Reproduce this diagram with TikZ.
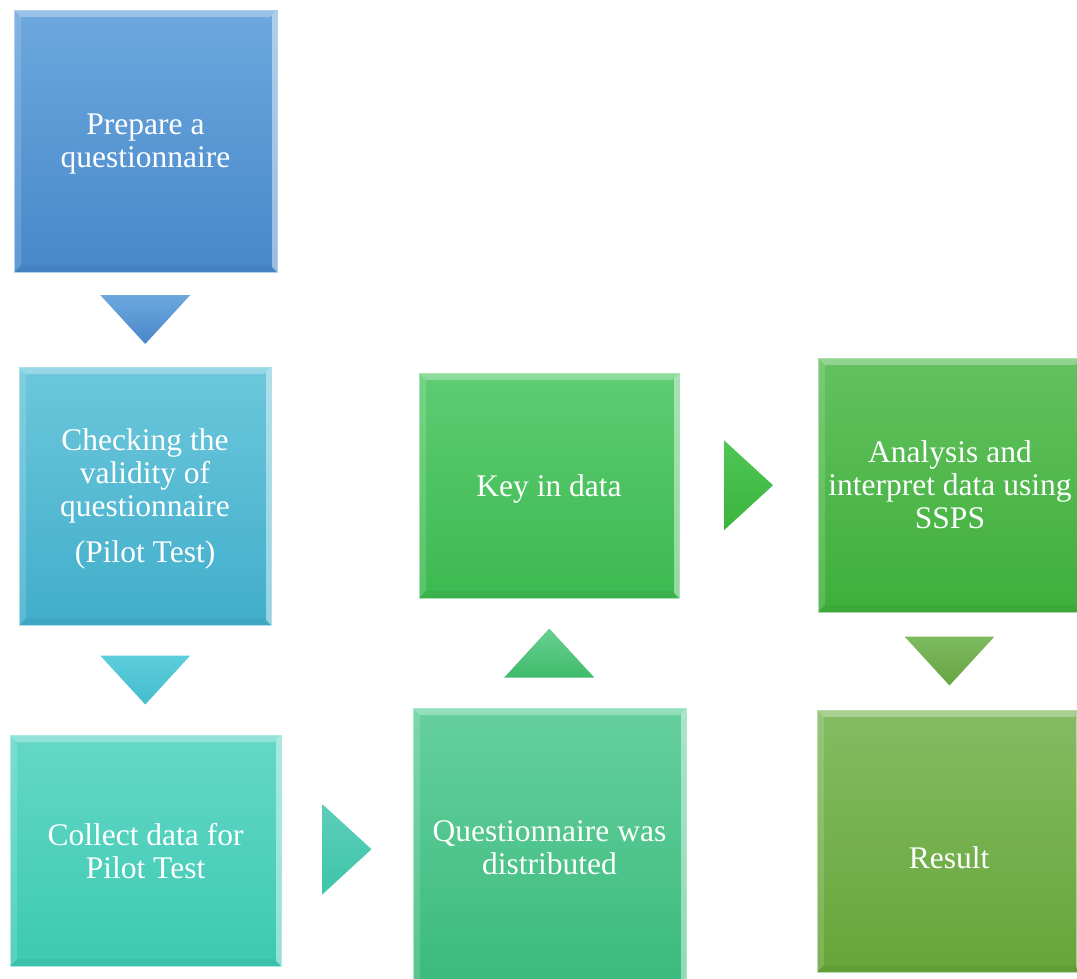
\documentclass[tikz,border=0pt]{standalone}
\usepackage{fontspec}
\setmainfont{Liberation Serif}
\usetikzlibrary{calc}
\definecolor{prepT}{HTML}{6DA8DE}\definecolor{prepB}{HTML}{4788CA}
\definecolor{checkT}{HTML}{6CC7DB}\definecolor{checkB}{HTML}{41AECB}
\definecolor{collT}{HTML}{64D8C7}\definecolor{collB}{HTML}{3CC9B2}
\definecolor{distT}{HTML}{66D09E}\definecolor{distB}{HTML}{39BA7B}
\definecolor{keyT}{HTML}{5ECC72}\definecolor{keyB}{HTML}{3CB951}
\definecolor{anaT}{HTML}{63C15F}\definecolor{anaB}{HTML}{3EAF3A}
\definecolor{resT}{HTML}{84BC62}\definecolor{resB}{HTML}{66A539}
\definecolor{aoneT}{HTML}{6CA8DE}\definecolor{aoneB}{HTML}{4A86C8}
\definecolor{atwoT}{HTML}{5CCDDB}\definecolor{atwoB}{HTML}{45BCCE}
\definecolor{athrT}{HTML}{5ECDBB}\definecolor{athrB}{HTML}{3DC5A8}
\definecolor{afouT}{HTML}{6AD092}\definecolor{afouB}{HTML}{3FBB6B}
\definecolor{afivT}{HTML}{4FC556}\definecolor{afivB}{HTML}{3AB53C}
\definecolor{asixT}{HTML}{7DBB60}\definecolor{asixB}{HTML}{66A443}

\begin{document}
\begin{tikzpicture}[x=1pt,y=-1pt,
   box/.style 2 args={rectangle,anchor=north west,inner sep=0pt,outer sep=0pt,
      top color=#1,bottom color=#2,draw=#1!55!white,line width=.8pt,
      text=white,align=center,text depth=0pt,font=\fontsize{31.5}{33}\selectfont,
      path picture={
         \fill[white,opacity=.30] (path picture bounding box.north west) -- (path picture bounding box.north east)
            -- ([shift={(-7,7)}]path picture bounding box.north east) -- ([shift={(7,7)}]path picture bounding box.north west) -- cycle;
         \fill[white,opacity=.15] (path picture bounding box.north west) -- ([shift={(7,7)}]path picture bounding box.north west)
            -- ([shift={(7,-7)}]path picture bounding box.south west) -- (path picture bounding box.south west) -- cycle;
         \fill[white,opacity=.45] (path picture bounding box.north east) -- ([shift={(-5,5)}]path picture bounding box.north east)
            -- ([shift={(-5,-5)}]path picture bounding box.south east) -- (path picture bounding box.south east) -- cycle;
         \fill[black,opacity=.04] (path picture bounding box.south west) -- ([shift={(7,-7)}]path picture bounding box.south west)
            -- ([shift={(-5,-7)}]path picture bounding box.south east) -- (path picture bounding box.south east) -- cycle;
      }},
   tri/.style 2 args={top color=#1,bottom color=#2,draw=none}]
   \useasboundingbox (0,0) rectangle (1077,978);
   \clip (0,0) rectangle (1077,978);
   % steps
   \node[box={prepT}{prepB},minimum width=263,minimum height=262] (prep) at (14,10) {Prepare a\\questionnaire};
   \node[box={checkT}{checkB},minimum width=252,minimum height=258] (check) at (19,367) {Checking the\\validity of\\questionnaire\\[13pt](Pilot Test)};
   \node[box={collT}{collB},minimum width=271,minimum height=231] (collect) at (10,735) {Collect data for\\Pilot Test};
   \node[box={distT}{distB},minimum width=273,minimum height=280] (distrib) at (413,708) {Questionnaire was\\distributed};
   \node[box={keyT}{keyB},minimum width=260,minimum height=225] (keyin) at (419,373) {Key in data};
   \node[box={anaT}{anaB},minimum width=264,minimum height=254] (analysis) at (818,358) {Analysis and\\interpret data using\\SSPS};
   \node[box={resT}{resB},minimum width=264,minimum height=262] (result) at (817,710) {\raisebox{-17pt}[\height][\depth]{Result}};
   % arrows between steps
   \coordinate (a1) at ($(prep.south)!.5!(check.north)$);
   \coordinate (a2) at ($(check.south)!.5!(collect.north)$);
   \coordinate (a3) at ($(collect.east)!.5!(distrib.west)$);
   \coordinate (a4) at ($(distrib.north)!.5!(keyin.south)$);
   \coordinate (a5) at ($(keyin.east)!.5!(analysis.west)$);
   \coordinate (a6) at ($(analysis.south)!.5!(result.north)$);
   \path[tri={aoneT}{aoneB}] (a1) ++(-45,-24.5) -- ++(90,0) -- ++(-45,49) -- cycle;
   \path[tri={atwoT}{atwoB}] (a2) ++(-45,-24.5) -- ++(90,0) -- ++(-45,49) -- cycle;
   \path[tri={athrT}{athrB}] (a3) ++(-24.5,-45) -- ++(0,90) -- ++(49,-45) -- cycle;
   \path[tri={afouT}{afouB}] (a4) ++(-45,24.5) -- ++(90,0) -- ++(-45,-49) -- cycle;
   \path[tri={afivT}{afivB}] (a5) ++(-24.5,-45) -- ++(0,90) -- ++(49,-45) -- cycle;
   \path[tri={asixT}{asixB}] (a6) ++(-45,-24.5) -- ++(90,0) -- ++(-45,49) -- cycle;
\end{tikzpicture}
\end{document}
